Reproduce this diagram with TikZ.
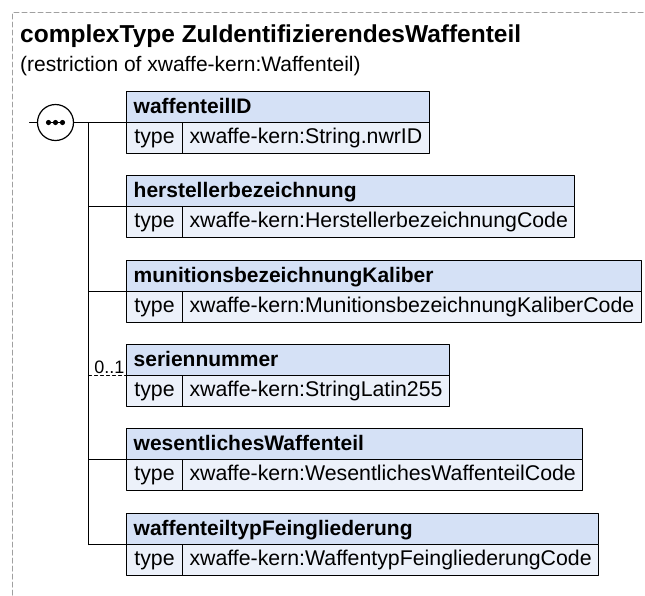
\documentclass[tikz,border=0pt]{standalone}
\usepackage{fontspec}
\setmainfont{Liberation Sans}
\usetikzlibrary{positioning,fit}

\definecolor{kopf}{HTML}{D5E1F6}
\definecolor{zeile}{HTML}{ECF1FA}
\definecolor{rand}{HTML}{A0A0A0}

\begin{document}
\begin{tikzpicture}[line cap=round,line join=round,x=1pt,y=-1pt,
	cell/.style={draw=black,line width=1pt,fill=zeile,outer sep=0pt,minimum height=31pt,
		inner xsep=7pt,inner ysep=0pt,text height=15pt,text depth=4.5pt,
		font=\fontsize{21.3}{25}\selectfont,anchor=north west},
	typecell/.style={cell,minimum width=56pt},
	kopfbox/.style={draw=black,line width=1pt,fill=kopf,inner sep=0pt,outer sep=0pt},
	elname/.style={anchor=west,inner xsep=7pt,inner ysep=0pt,text height=16pt,text depth=4pt,
		font=\bfseries\fontsize{21}{25}\selectfont},
	verbind/.style={line width=1pt}]
		\useasboundingbox (0,0) rectangle (645,595);
		%rahmen
		\draw[rand,dash pattern=on 5pt off 3pt,line width=1pt] (12.5,595)--(12.5,12.5)--(645,12.5);
		%titel
		\node[anchor=base west,inner sep=0pt,font=\bfseries\fontsize{24.5}{28}\selectfont] (titel) at (20,42) {complexType ZuIdentifizierendesWaffenteil};
		\node[anchor=base west,inner sep=0pt,font=\fontsize{21}{25}\selectfont] (untertitel) at (20,71) {(restriction of xwaffe-kern:Waffenteil)};
		%elemente
		\foreach \i/\nom/\typ in {1/waffenteilID/String.nwrID,
			2/herstellerbezeichnung/HerstellerbezeichnungCode,
			3/munitionsbezeichnungKaliber/MunitionsbezeichnungKaliberCode,
			4/seriennummer/StringLatin255,
			5/wesentlichesWaffenteil/WesentlichesWaffenteilCode,
			6/waffenteiltypFeingliederung/WaffentypFeingliederungCode}{
			\pgfmathsetmacro{\yy}{122.5+round(84.3*(\i-1))}
			\node[typecell] (t\i) at (126.5,\yy) {type};
			\node[cell,right=0pt of t\i] (v\i) {xwaffe-kern:\typ};
			\node[kopfbox,fit={(t\i.north west) ([yshift=31pt]v\i.north east)}] (h\i) {};
			\node[elname] (n\i) at (h\i.west) {\nom};
		}
		%sequenz
		\coordinate (start) at (29.5,122.5);
		\coordinate (bus) at (88.5,122.5);
		\node[draw,circle,line width=1.2pt,minimum size=36pt,inner sep=0pt,fill=white] (seq) at (55.5,122.5) {};
		\draw[line width=1.2pt] ([xshift=-7pt]seq.center)--([xshift=7pt]seq.center);
		\foreach \dx in {-7,0,7}
			\fill ([xshift=\dx pt]seq.center) circle (2.6);
		\draw[verbind] (start)--(seq.west);
		\draw[verbind] (seq.east)--(t1.north west);
		\draw[verbind] (bus)--(bus |- t6.north west);
		%zweige
		\foreach \i in {2,3,5,6}
			\draw[verbind] (bus |- t\i.north west)--(t\i.north west);
		\draw[verbind,dash pattern=on 3pt off 3pt] (bus |- t4.north west)--(t4.north west);
		\node[anchor=south east,inner xsep=2pt,inner ysep=2pt,font=\fontsize{18}{20}\selectfont] (anz) at (t4.north west) {0..1};
\end{tikzpicture}
\end{document}
